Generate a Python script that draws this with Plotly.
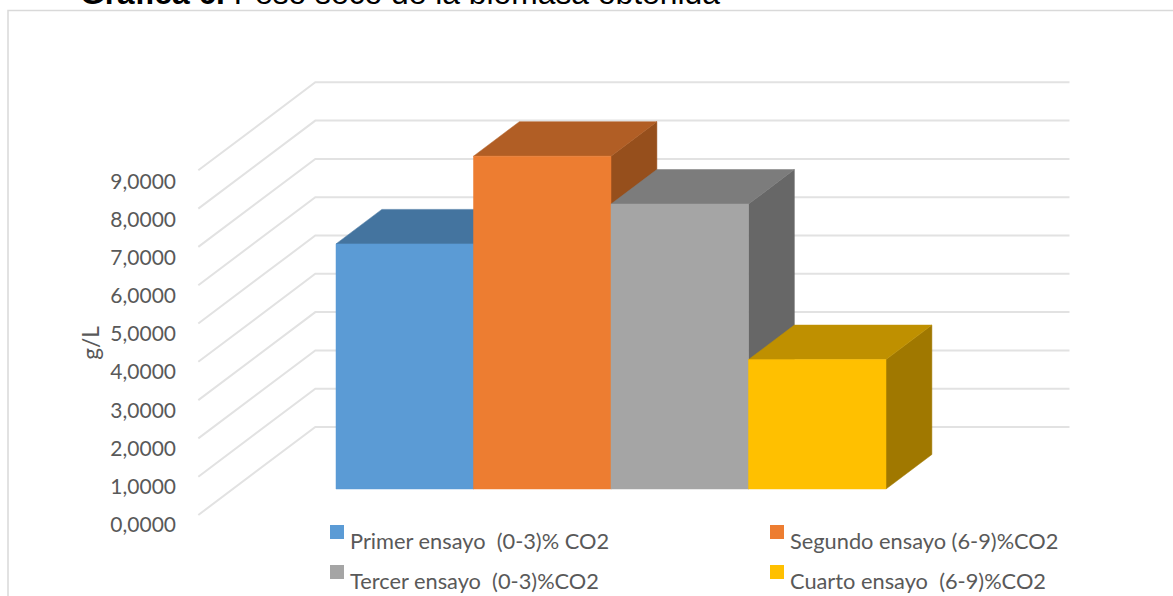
import plotly.graph_objects as go

# ---- data ----
categories = ["Primer ensayo  (0-3)% CO2", "Segundo ensayo (6-9)%CO2",
              "Tercer ensayo  (0-3)%CO2", "Cuarto ensayo  (6-9)%CO2"]
values = [6.40, 8.69, 7.44, 3.38]
tick_values = [0, 1, 2, 3, 4, 5, 6, 7, 8, 9]
tick_labels = ["0,0000", "1,0000", "2,0000", "3,0000", "4,0000",
               "5,0000", "6,0000", "7,0000", "8,0000", "9,0000"]
front_colors = ["#5B9BD5", "#ED7D31", "#A5A5A5", "#FFC000"]
top_colors = ["#44749F", "#B15E25", "#7C7C7C", "#BF9000"]
side_colors = ["#3A6A96", "#964F1C", "#676767", "#A07800"]

W, H = 1173, 596
PX_X = 137.5          # px per category
PX_Y = 38.3           # px per value unit
X0_PX, Y0_PX = 336, 489   # px of left edge of first bar / bar base in bar front plane

# oblique projection: depth t=0 floor front edge, t=1 back wall
DX, DY = 117 / PX_X, 88 / PX_Y
T_FRONT = 26 / 88
T_BACK = 60.5 / 88
X_LEFT, X_RIGHT = -1.25, 4.235


def proj(x, v, t):
    return x + (t - T_FRONT) * DX, v + (t - T_FRONT) * DY


def poly(points, color):
    xs, ys = zip(*[proj(*p) for p in points])
    return go.Scatter(x=list(xs) + [xs[0]], y=list(ys) + [ys[0]], mode="lines", fill="toself",
                      fillcolor=color, line=dict(color=color, width=0.5),
                      hoverinfo="skip", showlegend=False)


fig = go.Figure()

# walls' gridlines
for v in tick_values:
    xs, ys = zip(proj(X_LEFT, v, 0), proj(X_LEFT, v, 1), proj(X_RIGHT, v, 1))
    fig.add_trace(go.Scatter(x=xs, y=ys, mode="lines", line=dict(color="#E2E2E2", width=2),
                             hoverinfo="skip", showlegend=False))

# bars, painted left to right
for i, v in enumerate(values):
    l, r = i - 0.5, i + 0.5
    fig.add_trace(poly([(r, 0, T_FRONT), (r, 0, T_BACK), (r, v, T_BACK), (r, v, T_FRONT)], side_colors[i]))
    fig.add_trace(poly([(l, v, T_FRONT), (l, v, T_BACK), (r, v, T_BACK), (r, v, T_FRONT)], top_colors[i]))
    fig.add_trace(poly([(l, 0, T_FRONT), (r, 0, T_FRONT), (r, v, T_FRONT), (l, v, T_FRONT)], front_colors[i]))

# axis ticks live on a second axis whose scale sits in the left wall's front plane
TICK_0_PX, TICK_STEP = 524.5, 38.1
D_TOP, D_BOT = 110, 576

FONT = "Lato"
TXT = "#595959"

legend_px = [(330, 525, 350, 540), (770, 525, 790, 540), (330, 565, 350, 580), (770, 565, 790, 580)]
legend_order = [0, 1, 2, 3]
shapes = [dict(type="rect", xref="paper", yref="paper", x0=8 / W, x1=1.2, y0=-0.2, y1=1 - 10.5 / H,
               line=dict(color="#D9D9D9", width=1.5), layer="below")]
annotations = []
for k, (sx, sy, tx, ty) in zip(legend_order, legend_px):
    shapes.append(dict(type="rect", xref="paper", yref="paper", x0=sx / W, x1=(sx + 14) / W,
                       y0=1 - (sy + 14) / H, y1=1 - sy / H, fillcolor=front_colors[k], line_width=0))
    annotations.append(dict(text=categories[k], xref="paper", yref="paper", x=tx / W, y=1 - ty / H,
                            xanchor="left", yanchor="middle", showarrow=False, xshift=-2,
                            font=dict(family=FONT, size=21.8, color=TXT)))

fig.update_layout(
    width=W, height=H, autosize=False, margin=dict(l=0, r=0, t=0, b=0),
    paper_bgcolor="white", plot_bgcolor="rgba(0,0,0,0)", showlegend=False,
    title=dict(text="<b>Gráfica 6.</b> Peso seco de la biomasa obtenida",
               x=80 / W, xanchor="left", xref="paper", y=1 - 4 / H, yref="container", yanchor="bottom",
               font=dict(family="Liberation Sans", size=31.8, color="#000000")),
    xaxis=dict(range=[(0 - X0_PX) / PX_X - 0.5, (W - X0_PX) / PX_X - 0.5], visible=False, domain=[0, 1]),
    yaxis=dict(range=[(Y0_PX - H) / PX_Y, Y0_PX / PX_Y], visible=False, domain=[0, 1]),
    yaxis2=dict(anchor="free", position=176 / W, side="left",
                domain=[1 - D_BOT / H, 1 - D_TOP / H],
                range=[(TICK_0_PX - D_BOT) / TICK_STEP, (TICK_0_PX - D_TOP) / TICK_STEP],
                tickvals=tick_values, ticktext=tick_labels, ticks="", showgrid=False, zeroline=False,
                showline=False, tickfont=dict(family=FONT, size=21, color=TXT),
                title=dict(text="g/L", font=dict(family=FONT, size=22.5, color=TXT), standoff=3)),
    shapes=shapes, annotations=annotations,
)
# an invisible trace keeps the tick axis alive
fig.add_trace(go.Scatter(x=[None], y=[None], yaxis="y2", showlegend=False, hoverinfo="skip"))

fig.write_html("out.html", config=dict(displayModeBar=False),
               post_script="document.body.style.margin='0';")
